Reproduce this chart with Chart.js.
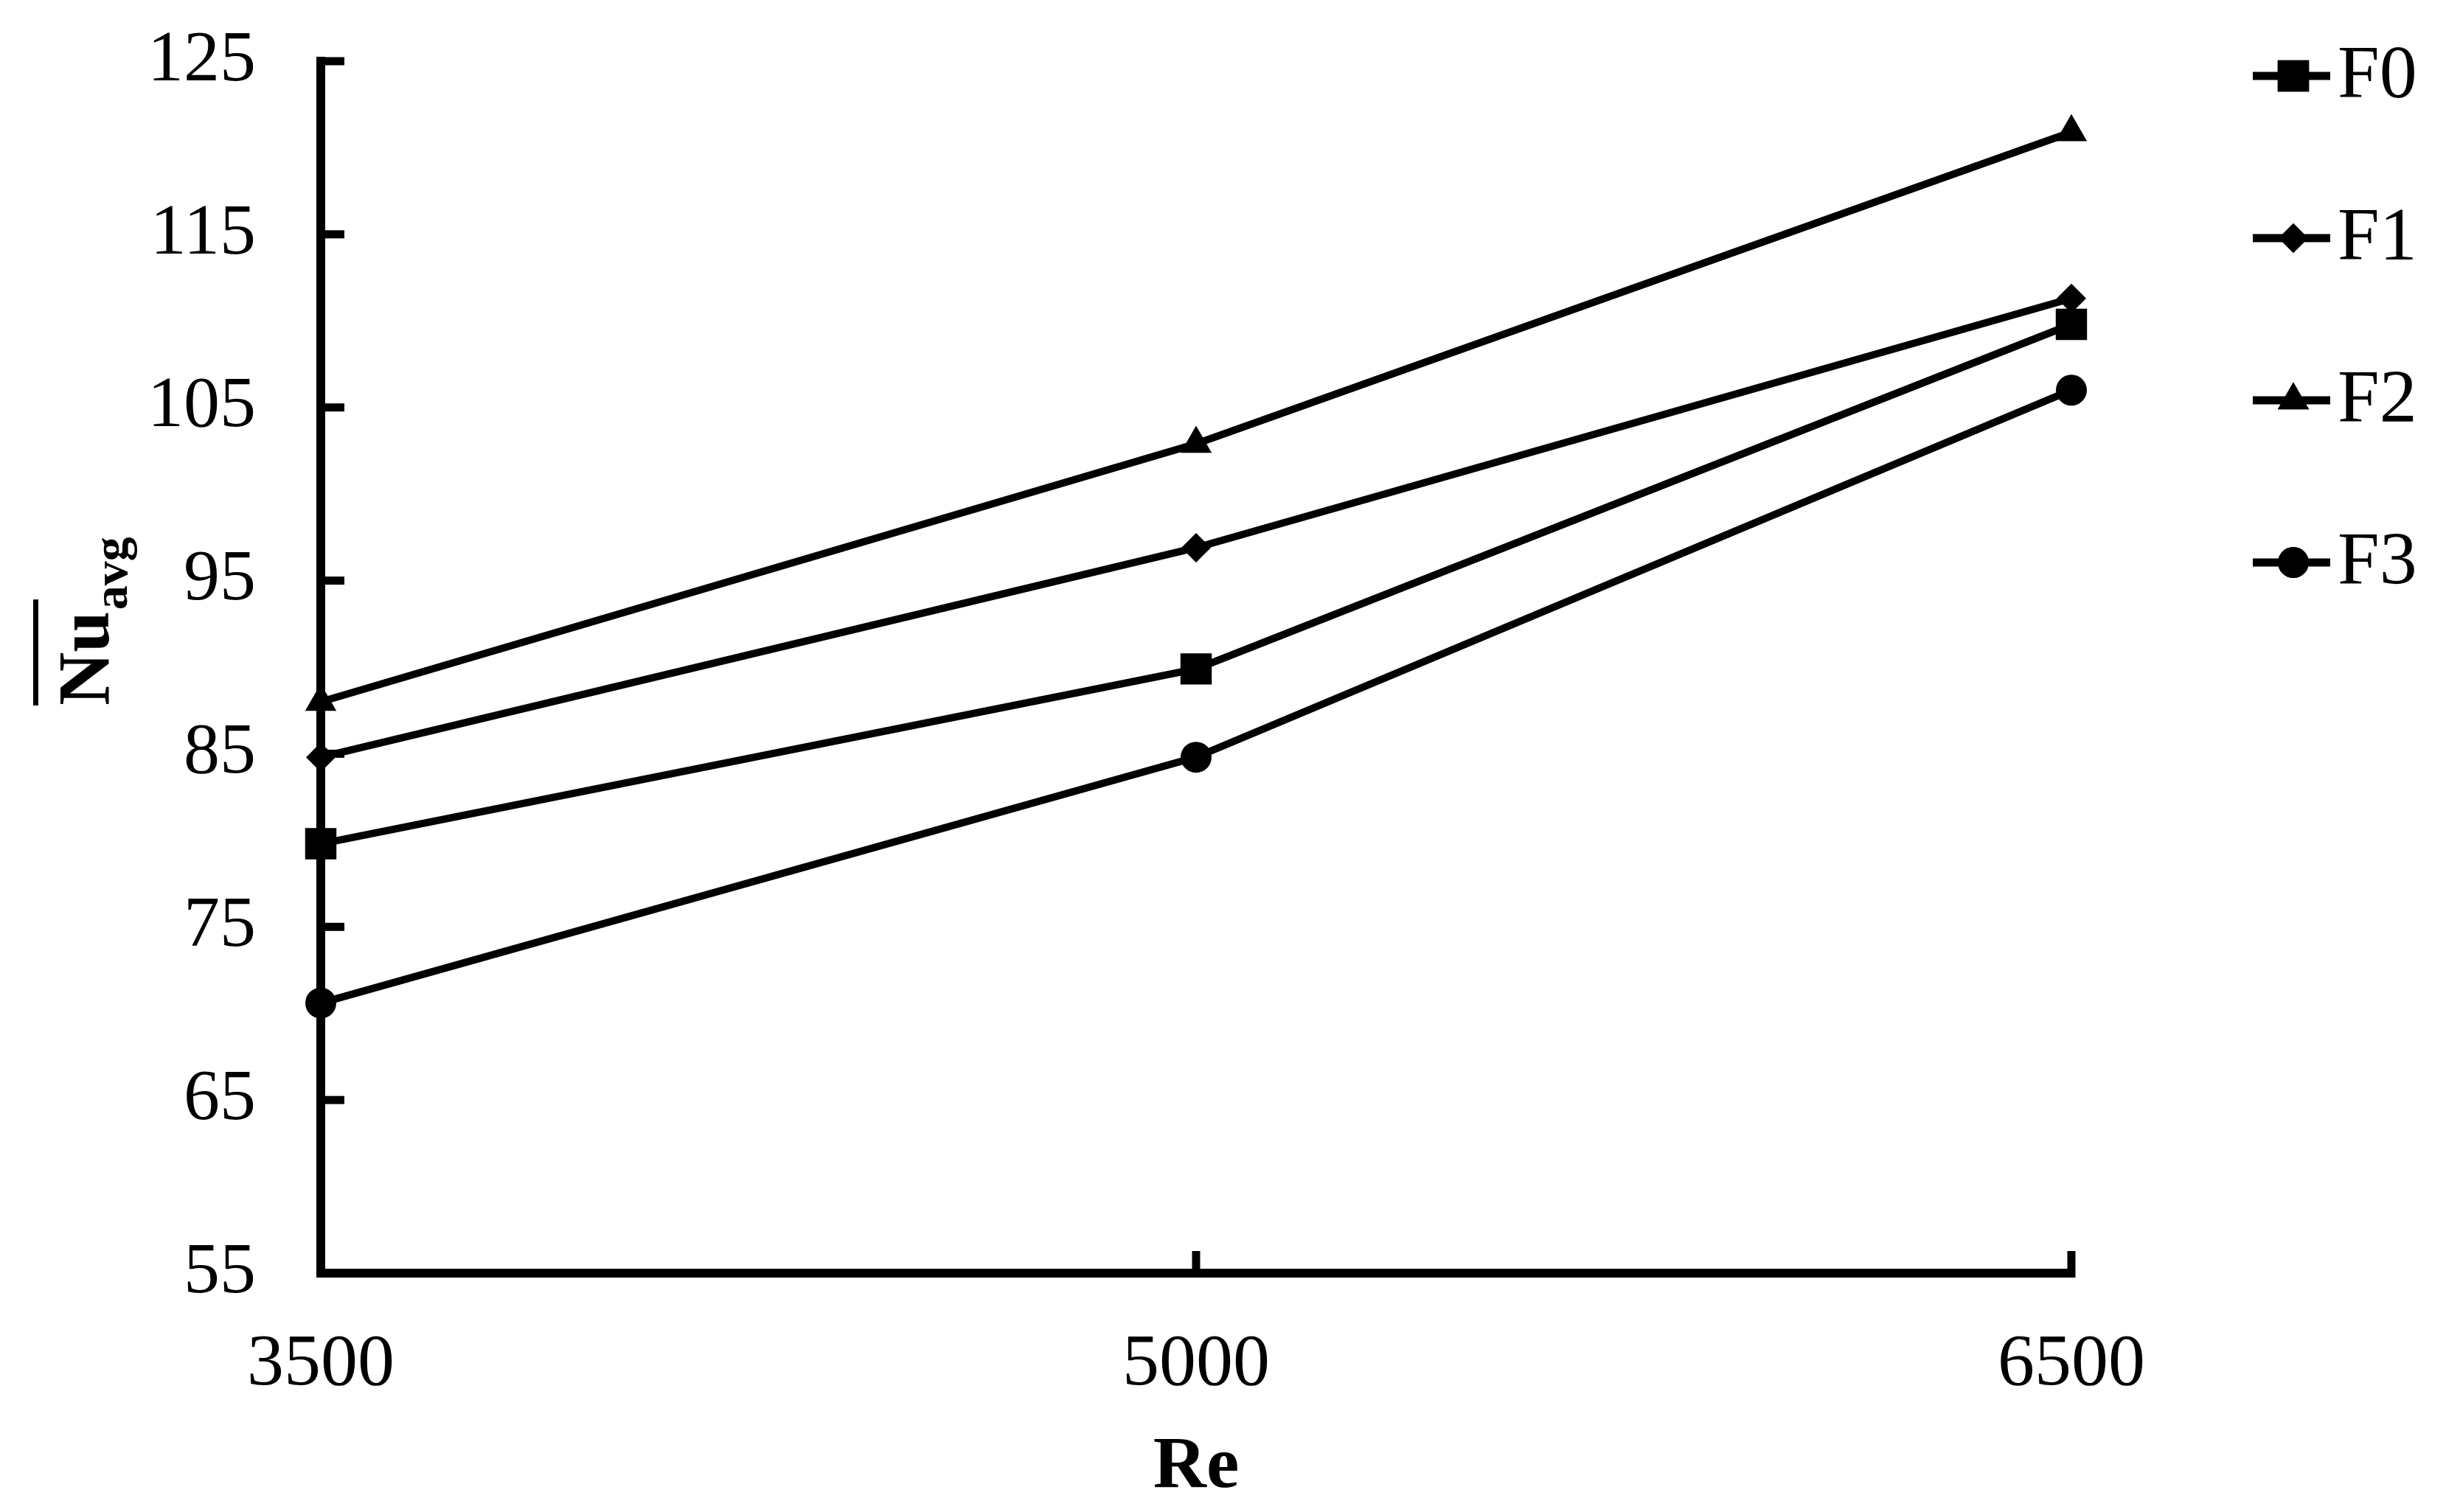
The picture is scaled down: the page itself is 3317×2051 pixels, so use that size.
<!DOCTYPE html>
<html><head><meta charset="utf-8">
<script src="https://cdn.jsdelivr.net/npm/chart.js@4.4.1/dist/chart.umd.min.js"></script>
<style>html,body{margin:0;padding:0;background:#fff;overflow:hidden}#wrap{width:3317px;height:2051px}</style>
</head><body><div id="wrap"><canvas id="c" width="3317" height="2051"></canvas></div>
<script>
// ---- data ----
const reynolds = [3500, 5000, 6500];
const seriesNames = ['F0', 'F1', 'F2', 'F3'];
const F0 = [79.8, 89.9, 109.8];
const F1 = [84.8, 96.9, 111.3];
const F2 = [88, 102.9, 120.9];
const F3 = [70.6, 84.8, 106];
const yTickValues = [55, 65, 75, 85, 95, 105, 115, 125];
const xTickValues = [3500, 5000, 6500];
const xTitle = 'Re';
const yTitleMain = 'Nu';
const yTitleSub = 'avg';

// ---- styling ----
const FONT = '"Liberation Serif", "Times New Roman", serif';
const markerStyles = ['rect', 'rectRot', 'triangle', 'circle'];
const markerRadius = [30, 20, 24.5, 21];
const allSeries = [F0, F1, F2, F3];

const datasets = allSeries.map((vals, i) => ({
  label: seriesNames[i],
  data: reynolds.map((r, j) => ({x: r, y: vals[j]})),
  borderColor: '#000',
  backgroundColor: '#000',
  borderWidth: 10,
  tension: 0,
  pointStyle: markerStyles[i],
  pointRadius: markerRadius[i],
  pointBackgroundColor: '#000',
  pointBorderColor: '#000',
  pointBorderWidth: 0,
  clip: false
}));

function drawMarker(ctx, style, r, x, y) {
  if (Chart.helpers && Chart.helpers.drawPoint) {
    Chart.helpers.drawPoint(ctx, {pointStyle: style, radius: r, borderWidth: 0, rotation: 0}, x, y);
    ctx.fill();
  }
}

const AXW = 12;
const decor = {
  id: 'decor',
  beforeDatasetsDraw(chart) {
    const ctx = chart.ctx, xs = chart.scales.x, ys = chart.scales.y, ca = chart.chartArea;
    ctx.save();
    ctx.fillStyle = '#000';
    const lw = AXW;
    yTickValues.forEach(v => {
      if (v === yTickValues[0]) return;
      const y = ys.getPixelForValue(v);
      ctx.fillRect(ca.left - lw / 2, y - 5.5, 32 + lw / 2, 11);
    });
    xTickValues.forEach(v => {
      if (v === xTickValues[0]) return;
      const x = xs.getPixelForValue(v);
      ctx.fillRect(x - 5.5, ca.bottom - 30, 11, 30 + lw / 2);
    });
    ctx.fillRect(ca.left - lw / 2, ca.bottom - lw / 2, lw, lw);
    ctx.restore();
  },
  afterDraw(chart) {
    const ctx = chart.ctx, xs = chart.scales.x;
    ctx.save();
    ctx.fillStyle = '#000';
    ctx.strokeStyle = '#000';
    ctx.font = 'bold 100px ' + FONT;
    ctx.textAlign = 'center';
    ctx.textBaseline = 'alphabetic';
    ctx.fillText(xTitle, xs.getPixelForValue(5000), 2017);
    ctx.save();
    ctx.translate(147, 957);
    ctx.rotate(-Math.PI / 2);
    ctx.textAlign = 'left';
    ctx.font = 'bold 100px ' + FONT;
    ctx.fillText(yTitleMain, 0, 0);
    const w = ctx.measureText(yTitleMain).width;
    ctx.font = 'bold 66px ' + FONT;
    ctx.fillText(yTitleSub, w + 2, 25);
    ctx.fillRect(0, -102, w + 16, 7);
    ctx.restore();
    const y0 = 103, dy = 220;
    seriesNames.forEach((name, i) => {
      const y = y0 + i * dy;
      ctx.lineWidth = 11;
      ctx.beginPath();
      ctx.moveTo(3055, y);
      ctx.lineTo(3160, y);
      ctx.stroke();
      drawMarker(ctx, markerStyles[i], markerRadius[i], 3110, y);
      ctx.font = '102px ' + FONT;
      ctx.textAlign = 'left';
      ctx.textBaseline = 'middle';
      ctx.fillText(name, 3170, y + 2);
    });
    ctx.restore();
  }
};

new Chart(document.getElementById('c'), {
  type: 'line',
  data: {datasets},
  options: {
    responsive: false,
    devicePixelRatio: 1,
    animation: false,
    layout: {padding: {top: 83, right: 508, bottom: 0, left: 0}},
    plugins: {legend: {display: false}, tooltip: {enabled: false}},
    scales: {
      x: {
        type: 'linear',
        min: 3500, max: 6500,
        afterBuildTicks: s => { s.ticks = xTickValues.map(v => ({value: v})); },
        afterFit: s => { s.height = 324; },
        grid: {display: false, drawTicks: false},
        border: {display: true, color: '#000', width: AXW},
        ticks: {color: '#000', padding: 65, font: {family: FONT, size: 100}, maxRotation: 0, callback: v => String(v)}
      },
      y: {
        type: 'linear',
        min: 55, max: 125,
        afterBuildTicks: s => { s.ticks = yTickValues.map(v => ({value: v})); },
        afterFit: s => { s.width = 435; s.paddingTop = 0; s.paddingBottom = 0; },
        grid: {display: false, drawTicks: false},
        border: {display: true, color: '#000', width: AXW},
        ticks: {color: '#000', padding: 88, font: {family: FONT, size: 98}, callback: v => String(v)}
      }
    }
  },
  plugins: [decor]
});
</script>
</body></html>
